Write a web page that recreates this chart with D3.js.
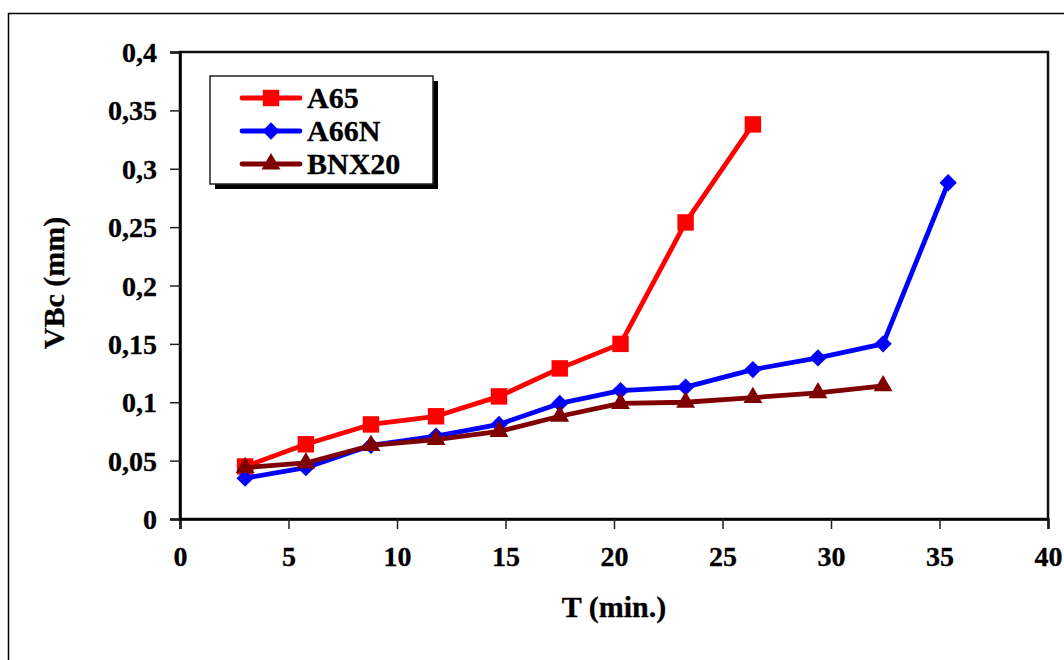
<!DOCTYPE html>
<html>
<head>
<meta charset="utf-8">
<script src="https://cdn.jsdelivr.net/npm/d3@7"></script>
<style>
  body { margin: 0; background: #fff; }
  text { font-family: "Liberation Serif", "Times New Roman", serif; font-weight: bold; fill: #000; }
</style>
</head>
<body>
<div id="chart"></div>
<script>
// data
var times = [3, 5.8, 8.8, 11.8, 14.7, 17.5, 20.3, 23.3, 26.4, 29.4, 32.4, 35.4]
var a65 = [0.045, 0.064, 0.081, 0.088, 0.105, 0.129, 0.150, 0.254, 0.338]
var a66n = [0.035, 0.044, 0.063, 0.071, 0.081, 0.099, 0.110, 0.113, 0.128, 0.138, 0.150, 0.288]
var bnx20 = [0.044, 0.048, 0.063, 0.068, 0.075, 0.088, 0.099, 0.100, 0.104, 0.108, 0.114]
var seriesNames = ["A65", "A66N", "BNX20"]
var xTicks = [0, 5, 10, 15, 20, 25, 30, 35, 40]
var yTicks = [0, 0.05, 0.1, 0.15, 0.2, 0.25, 0.3, 0.35, 0.4]

var dims = {
    width: 1064,
    height: 660,
    left: 180, right: 1048, top: 52, bottom: 519
}

var series = [
    {name: seriesNames[0], values: a65, color: "#ff0000", shape: "square"},
    {name: seriesNames[1], values: a66n, color: "#0000ff", shape: "diamond"},
    {name: seriesNames[2], values: bnx20, color: "#7f0000", shape: "triangle"}
]

var svg = d3.select("#chart").append("svg")
    .attr("width", dims.width)
    .attr("height", dims.height)

// outer frame (runs off the page like the original)
svg.append("rect")
    .attr("x", 8.5).attr("y", 13.5)
    .attr("width", 1100).attr("height", 700)
    .attr("fill", "none").attr("stroke", "#000").attr("stroke-width", 1.5)

var x = d3.scaleLinear().domain([0, 40]).range([dims.left, dims.right])
var y = d3.scaleLinear().domain([0, 0.4]).range([dims.bottom, dims.top])

var comma = d3.formatLocale({decimal: ",", thousands: ".", grouping: [3], currency: ["", ""]}).format("~g")

// plot box
svg.append("rect")
    .attr("x", dims.left).attr("y", dims.top)
    .attr("width", dims.right - dims.left).attr("height", dims.bottom - dims.top)
    .attr("fill", "none").attr("stroke", "#111").attr("stroke-width", 2.5)

// axes
var xAxis = svg.append("g")
    .attr("transform", `translate(0,${dims.bottom})`)
    .call(d3.axisBottom(x).tickValues(xTicks).tickSize(10).tickPadding(17).tickFormat(d => d))
var yAxis = svg.append("g")
    .attr("transform", `translate(${dims.left},0)`)
    .call(d3.axisLeft(y).tickValues(yTicks).tickSize(10).tickPadding(13).tickFormat(comma))

;[xAxis, yAxis].forEach(function(g){
    g.select(".domain").attr("stroke", "#000").attr("stroke-width", 2.5)
    g.selectAll(".tick line").attr("stroke", "#222").attr("stroke-width", 1.5)
    g.selectAll("text")
        .attr("font-family", "Liberation Serif, Times New Roman, serif")
        .attr("font-weight", "bold")
        .attr("font-size", "28px")
        .attr("fill", "#000")
        .attr("stroke", "#000")
        .attr("stroke-width", 0.3)
})
xAxis.selectAll("text").attr("dy", "0.71em")
yAxis.selectAll("text").attr("dy", "0.34em")

// axis titles
svg.append("text")
    .attr("x", (dims.left + dims.right) / 2)
    .attr("y", 617)
    .attr("text-anchor", "middle")
    .attr("font-size", "30px")
    .attr("stroke", "#000").attr("stroke-width", 0.3)
    .text("T (min.)")

svg.append("text")
    .attr("transform", "translate(64,283) rotate(-90)")
    .attr("text-anchor", "middle")
    .attr("font-size", "30px")
    .attr("stroke", "#000").attr("stroke-width", 0.3)
    .text("VBc (mm)")

// markers
function marker(shape) {
    if (shape == "square") return d3.symbol(d3.symbolSquare, 270)()
    if (shape == "diamond") return d3.symbol(d3.symbolSquare, 150)()
    return d3.symbol(d3.symbolTriangle, 155)()
}
function markerTransform(shape, px, py) {
    return shape == "diamond" ? `translate(${px},${py}) rotate(45)` : `translate(${px},${py})`
}

var line = d3.line()
    .x((d, i) => x(times[i]))
    .y(d => y(d))

series.forEach(function(s){
    svg.append("path")
        .datum(s.values)
        .attr("d", line)
        .attr("fill", "none")
        .attr("stroke", s.color)
        .attr("stroke-width", 4.8)
        .attr("stroke-linejoin", "round")

    svg.append("g")
        .selectAll("path")
        .data(s.values)
        .enter()
        .append("path")
        .attr("d", marker(s.shape))
        .attr("transform", (d, i) => markerTransform(s.shape, x(times[i]), y(d)))
        .attr("fill", s.color)
})

// legend
var legend = svg.append("g")
legend.append("rect")
    .attr("x", 215).attr("y", 81).attr("width", 223).attr("height", 108)
    .attr("fill", "#000")
legend.append("rect")
    .attr("x", 210).attr("y", 76).attr("width", 223).attr("height", 108)
    .attr("fill", "#fff").attr("stroke", "#222").attr("stroke-width", 1.5)

series.forEach(function(s, i){
    var ly = 98 + i * 33
    legend.append("line")
        .attr("x1", 242).attr("x2", 300)
        .attr("y1", ly).attr("y2", ly)
        .attr("stroke", s.color).attr("stroke-width", 4.8).attr("stroke-linecap", "round")
    legend.append("path")
        .attr("d", marker(s.shape))
        .attr("transform", markerTransform(s.shape, 271, ly))
        .attr("fill", s.color)
    legend.append("text")
        .attr("x", 307)
        .attr("y", ly + 10)
        .attr("font-size", "30px")
        .attr("stroke", "#000").attr("stroke-width", 0.3)
        .text(s.name)
})
</script>
</body>
</html>
